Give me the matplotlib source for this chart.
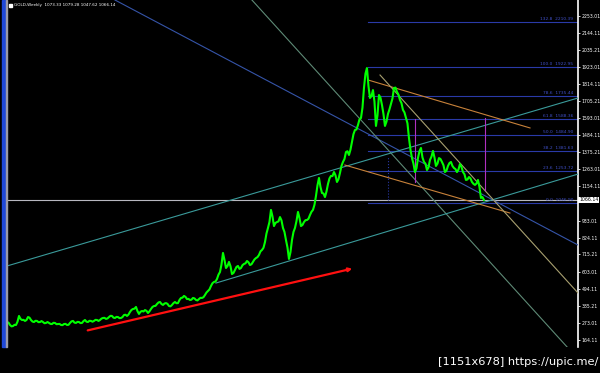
import matplotlib
matplotlib.use("Agg")
import matplotlib.pyplot as plt
from matplotlib.patches import Rectangle

# weekly close (every other bar or so)
close = [280, 276, 261, 252, 254, 262, 261, 282, 319, 300, 293, 294, 287, 293, 312, 308,
         293, 283, 280, 288, 287, 279, 280, 286, 280, 272, 274, 280, 274, 268, 267, 275,
         274, 266, 267, 268, 261, 260, 267, 268, 261, 262, 274, 284, 287, 276, 274, 281,
         280, 273, 274, 286, 293, 282, 280, 288, 287, 282, 287, 294, 293, 287, 293, 302,
         306, 307, 300, 303, 312, 320, 319, 308, 306, 313, 312, 305, 306, 312, 325, 327,
         319, 328, 345, 358, 364, 366, 377, 350, 332, 346, 351, 348, 357, 352, 338, 349,
         364, 377, 383, 384, 396, 406, 409, 396, 390, 399, 402, 397, 383, 381, 390, 402,
         409, 401, 402, 422, 435, 437, 448, 442, 428, 429, 422, 424, 435, 432, 422, 419,
         428, 436, 435, 440, 454, 470, 480, 490, 512, 530, 538, 541, 557, 585, 602, 650,
         725, 680, 628, 640, 667, 640, 589, 596, 615, 635, 641, 622, 628, 646, 654, 658,
         673, 665, 647, 652, 667, 683, 692, 698, 712, 735, 744, 758, 795, 850, 886, 925,
         1002, 960, 898, 918, 924, 928, 956, 935, 886, 860, 808, 760, 686, 730, 808, 860,
         886, 930, 989, 950, 898, 905, 924, 936, 937, 945, 969, 990, 1002, 1035, 1092, 1160,
         1208, 1150, 1111, 1108, 1085, 1120, 1169, 1205, 1221, 1220, 1246, 1225, 1182, 1200, 1240, 1285,
         1311, 1330, 1375, 1380, 1356, 1390, 1440, 1490, 1517, 1520, 1549, 1585, 1594, 1660, 1787, 1880,
         1916, 1800, 1723, 1735, 1774, 1700, 1543, 1610, 1742, 1725, 1678, 1620, 1543, 1570, 1620, 1650,
         1684, 1720, 1787, 1790, 1762, 1745, 1710, 1690, 1646, 1630, 1594, 1560, 1465, 1390, 1336, 1300,
         1246, 1270, 1336, 1380, 1401, 1340, 1311, 1300, 1259, 1275, 1324, 1345, 1382, 1340, 1285, 1300,
         1336, 1330, 1311, 1290, 1246, 1255, 1285, 1304, 1311, 1285, 1272, 1265, 1246, 1262, 1298, 1280,
         1246, 1232, 1195, 1198, 1214, 1205, 1182, 1170, 1163, 1172, 1195, 1150, 1079, 1085, 1066]

header = "GOLD,Weekly  1073.33 1079.28 1047.62 1066.14"
last_price = 1066.14

price_ticks = [2253.01, 2144.11, 2035.21, 1923.01, 1814.11, 1705.21, 1593.01,
               1484.11, 1375.21, 1263.01, 1154.11, 933.01, 824.11, 715.21,
               603.01, 494.11, 385.21, 273.01, 164.11]

# fibo retracement
fib_start = 240.7
fib_levels = ["0.0", "23.6", "38.2", "50.0", "61.8", "78.6", "100.0", "132.8"]
fib_prices = [1046.90, 1253.72, 1381.63, 1484.90, 1588.36, 1735.44, 1922.95, 2210.39]

# trend lines: (bar0, price0, bar1, price1, colour)
trend_lines = [
    (72.0, 2354, 380.7, 776, "#3554a8"),
    (163.3, 2354, 380.7, 42, "#5e8a76"),
    (0.0, 641, 380.7, 1723, "#3a9a9a"),
    (139.3, 531, 380.7, 1233, "#3a9a9a"),
    (240.7, 1839, 348.7, 1530, "#c8823a"),
    (225.3, 1291, 335.3, 982, "#c8823a"),
    (248.7, 1871, 380.7, 467, "#a8a070"),
]
vlines = [(272.0, 1182, 1588, "#b030c0", "-"), (318.7, 1130, 1594, "#b030c0", "-"),
          (254.0, 1066, 1343, "#2a3aa8", ":")]
arrow_from = (52.0, 222)
arrow_to = (232.0, 628)
x_max = 380.7

fig = plt.figure(figsize=(6, 3.73), dpi=100, facecolor="black")
ax = fig.add_axes([7 / 600, 26 / 373, 571 / 600, 347 / 373], facecolor="black")

ax.plot(range(len(close)), close, color="#00ff00", lw=1.5, zorder=5)

for x0, y0, x1, y1, c in trend_lines:
    ax.plot([x0, x1], [y0, y1], color=c, lw=0.8, zorder=3)

ax.axhline(last_price, color="#b8b8c0", lw=0.8, zorder=2)

for lv, p in zip(fib_levels, fib_prices):
    ax.plot([fib_start, x_max], [p, p], color="#2a3aa8", lw=0.8, zorder=2)
    ax.text(377.5, p + 8, f"{lv}  {p:.2f}", color="#4050c8", fontsize=3.2,
            ha="right", va="bottom", zorder=6)

for x, lo, hi, c, ls in vlines:
    ax.plot([x, x], [lo, hi], color=c, lw=0.8, ls=ls, zorder=4)

ax.annotate("", xy=arrow_to, xytext=arrow_from,
            arrowprops=dict(arrowstyle="-|>", color="#ff1010", lw=1.6,
                            mutation_scale=5), zorder=6)

ax.set_xlim(0, x_max)
ax.set_ylim(119.1, 2354.1)
ax.set_xticks([])
ax.yaxis.tick_right()
ax.set_yticks(price_ticks)
ax.set_yticklabels([f"{t:.2f}" for t in price_ticks])
ax.tick_params(axis="y", colors="white", labelsize=3.3, length=1.5, width=0.6, pad=1)
for s in ["left", "top", "bottom"]:
    ax.spines[s].set_visible(False)
ax.spines["right"].set_color("white")
ax.spines["right"].set_linewidth(1.2)

ax.text(1.002, last_price, f"{last_price:.2f}", transform=ax.get_yaxis_transform(),
        fontsize=3.3, color="black", va="center", ha="left",
        bbox=dict(boxstyle="square,pad=0.2", fc="white", ec="none"))

# header
fig.text(14 / 600, 1 - 5 / 373, header, color="white", fontsize=3.0, va="center")
fig.patches.append(Rectangle((9 / 600, 1 - 7 / 373), 3 / 600, 3 / 373,
                             transform=fig.transFigure, color="white"))
# left blue bar
fig.patches.append(Rectangle((2 / 600, 26 / 373), 3.5 / 600, 347 / 373,
                             transform=fig.transFigure, color="#1f48d8"))
fig.patches.append(Rectangle((5.5 / 600, 26 / 373), 1 / 600, 347 / 373,
                             transform=fig.transFigure, color="#9a9aa8"))

fig.text(598 / 600, 11 / 373, "[1151x678] https://upic.me/", color="white",
         fontsize=8.2, ha="right", va="center")

fig.savefig("out.png", dpi=100, facecolor="black")
